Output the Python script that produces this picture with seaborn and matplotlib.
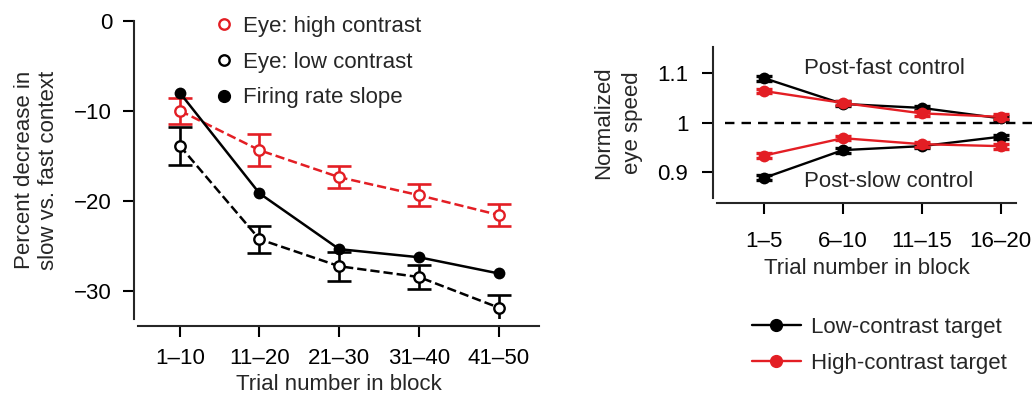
import numpy as np
import pandas as pd
import matplotlib
matplotlib.use("Agg")
import matplotlib.pyplot as plt
import seaborn as sns
from matplotlib.lines import Line2D

# --- left panel: percent decrease, slow vs fast context
blocks_a = ["1–10", "11–20", "21–30", "31–40", "41–50"]
eye_high = [-10.0, -14.4, -17.4, -19.4, -21.6]
eye_high_err = [1.45, 1.75, 1.2, 1.2, 1.25]
eye_low = [-13.9, -24.3, -27.3, -28.5, -31.9]
eye_low_err = [2.1, 1.5, 1.6, 1.35, 1.45]
firing = [-8.0, -19.2, -25.4, -26.3, -28.1]
yticks_a = [0, -10, -20, -30]

# --- right panel: normalized eye speed in control blocks
blocks_b = ["1–5", "6–10", "11–15", "16–20"]
low_fast = [1.090, 1.038, 1.030, 1.009]
low_slow = [0.889, 0.945, 0.953, 0.972]
high_fast = [1.064, 1.040, 1.019, 1.012]
high_slow = [0.934, 0.969, 0.957, 0.953]
low_err = [0.005, 0.005, 0.004, 0.004]
high_err = [0.005, 0.004, 0.005, 0.005]
yticks_b = [0.9, 1.0, 1.1]
yticklabels_b = ["0.9", "1", "1.1"]

sns.set_theme(style="ticks")
plt.rcParams["font.family"] = ["Liberation Sans", "DejaVu Sans"]
plt.rcParams["axes.linewidth"] = 1.5

RED = "#e31e24"
W, H = 1033, 401

fig = plt.figure(figsize=(W / 100, H / 100), dpi=100)

# %% left panel
ax1 = fig.add_axes([138.3 / W, 1 - 319.3 / H, 401 / W, 298.6 / H])
xa = np.arange(len(blocks_a))
da = pd.DataFrame({"x": xa, "high": eye_high, "low": eye_low, "fr": firing})

ax1.errorbar(xa, eye_high, yerr=eye_high_err, fmt="none", ecolor=RED,
             elinewidth=1.9, capsize=8.6, capthick=1.9, zorder=2)
sns.lineplot(data=da, x="x", y="high", ax=ax1, color=RED, linestyle="--",
             dashes=(4, 2.5), lw=1.8, marker="o", ms=7.5, mfc="white",
             mec=RED, mew=1.7, zorder=3)
ax1.errorbar(xa, eye_low, yerr=eye_low_err, fmt="none", ecolor="black",
             elinewidth=1.9, capsize=8.6, capthick=1.9, zorder=2)
sns.lineplot(data=da, x="x", y="low", ax=ax1, color="black", linestyle="--",
             dashes=(4, 2.5), lw=1.8, marker="o", ms=7.5, mfc="white",
             mec="black", mew=1.7, zorder=3)
sns.lineplot(data=da, x="x", y="fr", ax=ax1, color="black", lw=1.8,
             marker="o", ms=8.5, mfc="black", mec="black", mew=0, zorder=4)

ax1.set_xlim(-0.52, 4.51)
ax1.set_ylim(-33.2, 0)
ax1.set_xticks(xa, labels=blocks_a)
ax1.set_yticks(yticks_a)
ax1.tick_params(length=8, width=1.5, pad=8, labelsize=16, colors="black")
sns.despine(ax=ax1, offset=dict(left=2.9, bottom=4.6))
ax1.set_xlabel("Trial number in block", fontsize=16)
ax1.xaxis.set_label_coords(0.5, -0.183)
ax1.xaxis.label.set_va("top")
ax1.set_ylabel("")
fig.text(36.5 / W, 1 - 170 / H, "Percent decrease in\nslow vs. fast context",
         rotation=90, ha="center", va="center", fontsize=16, linespacing=1.2)

leg_a = [
    Line2D([], [], ls="none", marker="o", ms=7.5, mfc="white", mec=RED, mew=1.7),
    Line2D([], [], ls="none", marker="o", ms=7.5, mfc="white", mec="black", mew=1.7),
    Line2D([], [], ls="none", marker="o", ms=8.5, mfc="black", mec="black"),
]
fig.legend(leg_a, ["Eye: high contrast", "Eye: low contrast", "Firing rate slope"],
           loc="upper left", bbox_to_anchor=(215 / W, 1 - 16 / H), frameon=False,
           fontsize=16, handlelength=0.8, handletextpad=0.45, borderpad=0,
           borderaxespad=0, labelspacing=0.66)

# %% right panel
ax2 = fig.add_axes([716.7 / W, 1 - 198.3 / H, 299.6 / W, 151 / H])
xb = np.arange(len(blocks_b))
db = pd.DataFrame({"x": xb, "low_fast": low_fast, "low_slow": low_slow,
                   "high_fast": high_fast, "high_slow": high_slow})

ax2.axhline(1, xmin=0.028, xmax=1.08, color="black", lw=1.7, ls="--",
            dashes=(4, 3), clip_on=False, zorder=1)
for col, err, c, z in [("low_fast", low_err, "black", 2), ("low_slow", low_err, "black", 2),
                       ("high_fast", high_err, RED, 4), ("high_slow", high_err, RED, 4)]:
    ax2.errorbar(xb, db[col], yerr=err, fmt="none", ecolor=c, elinewidth=2.4,
                 capsize=5.6, capthick=2.4, zorder=z)
    sns.lineplot(data=db, x="x", y=col, ax=ax2, color=c, lw=1.7, marker="o",
                 ms=8.5, mfc=c, mec=c, mew=0, zorder=z + 1)

ax2.text(0.513, 1.1095, "Post-fast control", ha="left", va="center", fontsize=16)
ax2.text(0.513, 0.881, "Post-slow control", ha="left", va="center", fontsize=16)

ax2.set_xlim(-0.6, 3.2)
ax2.set_ylim(0.848, 1.152)
ax2.set_xticks(xb, labels=blocks_b)
ax2.set_yticks(yticks_b, labels=yticklabels_b)
ax2.tick_params(axis="x", length=8, width=1.5, pad=12, labelsize=16, colors="black")
ax2.tick_params(axis="y", length=8, width=1.5, pad=9.5, labelsize=16, colors="black")
sns.despine(ax=ax2, offset=dict(left=2.9, bottom=3.2))
ax2.set_xlabel("Trial number in block", fontsize=16)
ax2.xaxis.set_label_coords(0.5, -0.395)
ax2.xaxis.label.set_va("top")
ax2.set_ylabel("")
fig.text(618 / W, 1 - 122.5 / H, "Normalized\neye speed",
         rotation=90, ha="center", va="center", fontsize=16, linespacing=1.45)

leg_b = [
    Line2D([], [], color="black", lw=1.7, marker="o", ms=8.5, mfc="black", mec="black"),
    Line2D([], [], color=RED, lw=1.7, marker="o", ms=8.5, mfc=RED, mec=RED),
]
fig.legend(leg_b, ["Low-contrast target", "High-contrast target"],
           loc="upper left", bbox_to_anchor=(751.7 / W, 1 - 317 / H), frameon=False,
           fontsize=16, handlelength=2.2, handletextpad=0.45, borderpad=0,
           borderaxespad=0, labelspacing=0.68)

fig.savefig("out.png", dpi=100)
